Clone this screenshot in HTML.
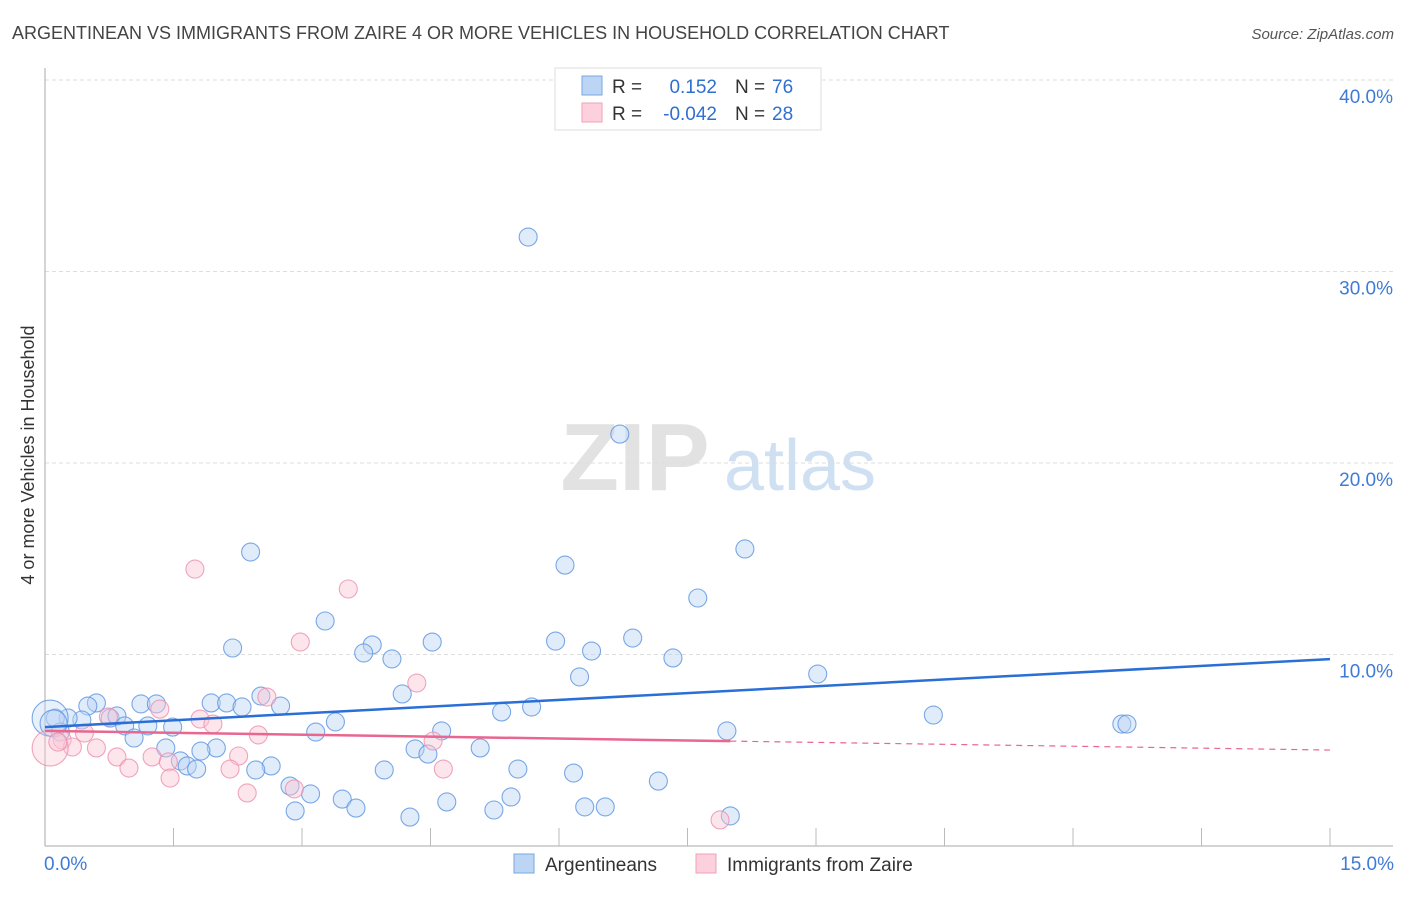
<!DOCTYPE html>
<html><head><meta charset="utf-8"><style>
body{margin:0;background:#fff;font-family:"Liberation Sans",sans-serif;}
svg text{font-family:"Liberation Sans",sans-serif;}
</style></head><body>
<svg id="chart" width="1406" height="892" xmlns="http://www.w3.org/2000/svg">
<text x="12" y="39" font-size="18" fill="#444">ARGENTINEAN VS IMMIGRANTS FROM ZAIRE 4 OR MORE VEHICLES IN HOUSEHOLD CORRELATION CHART</text>
<text x="1394" y="39" font-size="15" fill="#555" text-anchor="end" font-style="italic">Source: ZipAtlas.com</text>
<g>
<text x="635" y="490" font-size="96" fill="#e2e2e2" text-anchor="middle" font-family="Liberation Serif" font-weight="bold">ZIP</text>
<text x="800" y="490" font-size="72" fill="#cfe0f3" text-anchor="middle">atlas</text>
</g>
<g id="grid"></g>
<g id="axes"></g>
<g id="pts"></g>
<g id="lines"></g>
<text transform="translate(34,455) rotate(-90)" font-size="18" fill="#333" text-anchor="middle">4 or more Vehicles in Household</text>
<g>
<rect x="555" y="68" width="266" height="62" fill="#fff" stroke="#ddd"/>
<rect x="582" y="76" width="20" height="19" fill="#bcd5f5" stroke="#7aa7e0"/>
<rect x="582" y="103" width="20" height="19" fill="#fcd0dc" stroke="#f0a0b8"/>
<text x="612" y="93" font-size="19" fill="#333">R =</text><text x="717" y="93" font-size="19" fill="#2f6fd1" text-anchor="end">0.152</text>
<text x="735" y="93" font-size="19" fill="#333">N =</text><text x="772" y="93" font-size="19" fill="#2f6fd1">76</text>
<text x="612" y="120" font-size="19" fill="#333">R =</text><text x="717" y="120" font-size="19" fill="#2f6fd1" text-anchor="end">-0.042</text>
<text x="735" y="120" font-size="19" fill="#333">N =</text><text x="772" y="120" font-size="19" fill="#2f6fd1">28</text>
</g>
<g>
<rect x="514" y="854" width="20" height="19" fill="#bcd5f5" stroke="#7aa7e0"/>
<text x="545" y="871" font-size="19" fill="#333">Argentineans</text>
<rect x="696" y="854" width="20" height="19" fill="#fcd0dc" stroke="#f0a0b8"/>
<text x="727" y="871" font-size="19" fill="#333">Immigrants from Zaire</text>
</g>
</svg>
<script>
const blueX=[5.64,6.71,2.40,8.17,6.07,7.62,3.27,2.19,3.82,4.52,5.96,6.86,3.72,6.38,4.05,7.33,9.02,6.24,4.17,2.52,2.75,0.60,0.50,1.12,1.30,1.94,2.12,2.30,5.68,5.33,10.37,0.76,0.84,0.43,0.27,0.12,12.57,12.63,3.39,0.93,1.20,1.49,3.16,4.63,7.96,1.04,1.41,2.00,1.82,4.32,4.47,5.08,1.58,1.66,1.77,2.64,2.46,3.96,5.52,6.17,7.16,2.86,3.10,3.47,3.63,4.69,5.44,6.30,6.54,2.92,5.24,4.26,8.00,0.18,0.06,0.10];
const blueY=[31.8,21.51,15.35,15.51,14.67,12.95,11.75,10.34,10.50,10.65,10.70,10.86,10.08,10.18,9.77,9.82,8.98,8.83,7.94,7.83,7.31,7.47,7.31,7.42,7.42,7.47,7.47,7.26,7.26,7.00,6.84,6.68,6.79,6.58,6.68,6.68,6.37,6.37,6.48,6.27,6.27,6.21,5.95,6.01,6.01,5.64,5.12,5.12,4.96,5.07,4.80,5.12,4.44,4.18,4.02,4.18,3.97,3.97,4.02,3.81,3.39,3.13,2.72,2.45,1.98,2.30,2.56,2.04,2.04,1.83,1.88,1.51,1.57,5.95,6.68,6.40];
const blueSize=[1,1,1,1,1,1,1,1,1,1,1,1,1,1,1,1,1,1,1,1,1,1,1,1,1,1,1,1,1,1,1,1,1,1,1,1,1,1,1,1,1,1,1,1,1,1,1,1,1,1,1,1,1,1,1,1,1,1,1,1,1,1,1,1,1,1,1,1,1,1,1,1,1,1,2,1.5];
const pinkX=[1.75,3.54,2.98,4.34,2.59,1.34,0.74,1.81,1.96,2.49,0.46,4.53,0.20,0.32,0.60,0.84,1.25,2.26,1.44,0.98,2.16,4.65,1.46,2.36,2.91,7.88,0.06,0.15];
const pinkY=[14.46,13.42,10.65,8.51,7.78,7.15,6.74,6.63,6.37,5.80,5.90,5.48,5.54,5.17,5.12,4.65,4.65,4.70,4.39,4.07,4.02,4.02,3.55,2.77,2.98,1.36,5.12,5.43];
const pinkSize=[1,1,1,1,1,1,1,1,1,1,1,1,1,1,1,1,1,1,1,1,1,1,1,1,1,1,2,1];
const blueTrend=[6.21,9.76];
const pinkTrend=[6.01,5.01];
const yTicks=[10,20,30,40];
const yTickLabels=["10.0%","20.0%","30.0%","40.0%"];
const xTickLabels=["0.0%","15.0%"];
const NS="http://www.w3.org/2000/svg";
const X0=45,X1=1330,Y0=846,PPY=19.15;
const sx=v=>X0+(X1-X0)*v/15;
const sy=v=>Y0-v*PPY;
function mk(tag,attrs,parent){const e=document.createElementNS(NS,tag);for(const k in attrs)e.setAttribute(k,attrs[k]);document.getElementById(parent).appendChild(e);return e;}
yTicks.forEach((t,i)=>{
 const l=mk('line',{x1:45,x2:1393,y1:sy(t),y2:sy(t),stroke:'#ddd','stroke-dasharray':'4,3'},'grid');
 
 
 const tx=mk('text',{x:1393,y:sy(t)+23,'font-size':19,fill:'#3f7bd6','text-anchor':'end'},'grid');
 tx.textContent=yTickLabels[i];
 
 
});
let a=mk('line',{x1:45,x2:45,y1:68,y2:846,stroke:'#aaa'},'axes');


a=mk('line',{x1:45,x2:1393,y1:846,y2:846,stroke:'#aaa'},'axes');


for(let i=1;i<=10;i++){const x=sx(i*1.5);const t=mk('line',{x1:x,x2:x,y1:828,y2:846,stroke:'#bbb'},'axes');
 
 }
[[0,'start',44],[15,'end',1394]].forEach((d,i)=>{const t=mk('text',{x:d[2],y:870,'font-size':19,fill:'#3f7bd6','text-anchor':d[1]},'axes');t.textContent=xTickLabels[i];
 
 });
function pts(xs,ys,sz,fill,stroke,name){xs.forEach((x,i)=>{const c=mk('circle',{cx:sx(x),cy:sy(ys[i]),r:9*sz[i],fill:fill,'fill-opacity':sz[i]>1?0.35:0.45,stroke:stroke,'stroke-opacity':0.8,'stroke-width':1.1},'pts');
 
 });}
pts(blueX,blueY,blueSize,'#bcd5f5','#5a93e0','argentinean-point');
pts(pinkX,pinkY,pinkSize,'#fbc6d5','#ee8fae','zaire-point');
const bl=mk('line',{x1:sx(0),y1:sy(blueTrend[0]),x2:sx(15),y2:sy(blueTrend[1]),stroke:'#2a6fd6','stroke-width':2.5},'lines');


const pAt=x=>pinkTrend[0]+(pinkTrend[1]-pinkTrend[0])*x/15;
const pl=mk('line',{x1:sx(0),y1:sy(pAt(0)),x2:sx(8),y2:sy(pAt(8)),stroke:'#e8668f','stroke-width':2.5},'lines');


const pd=mk('line',{x1:sx(8),y1:sy(pAt(8)),x2:sx(15),y2:sy(pAt(15)),stroke:'#e8668f','stroke-width':1.2,'stroke-dasharray':'6,5'},'lines');


</script>
</body></html>
